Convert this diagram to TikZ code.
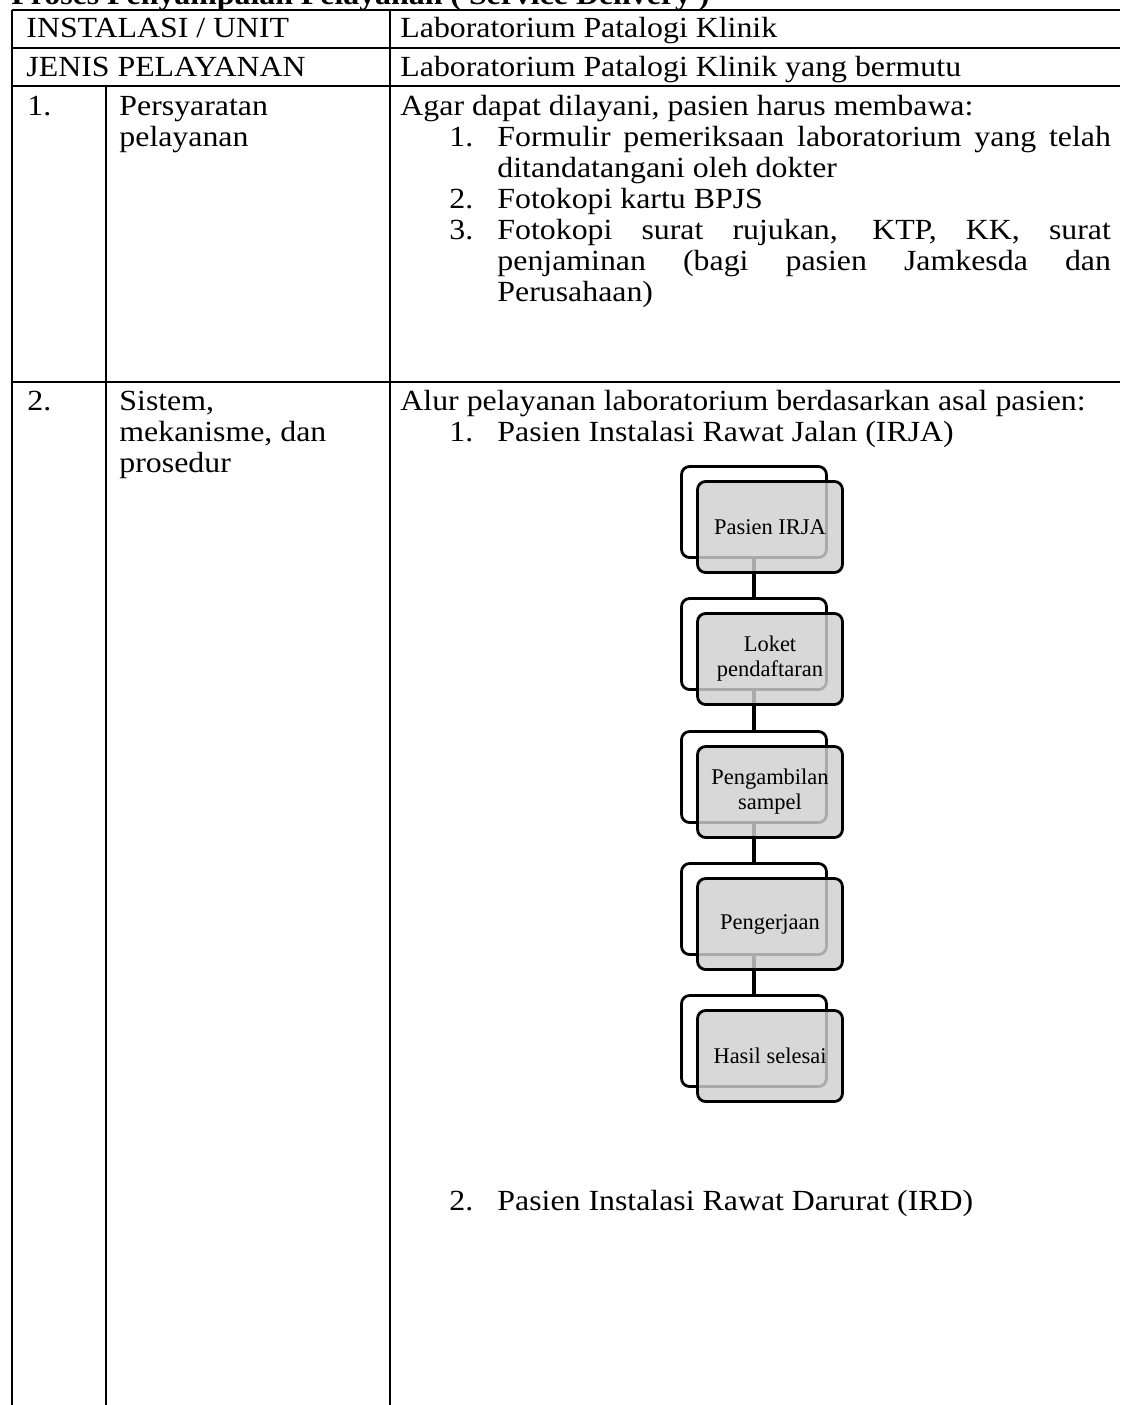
\documentclass[tikz,border=0pt]{standalone}
\usepackage{fontspec}
\setmainfont[FakeStretch=1.09]{Liberation Serif}
\newfontfamily\boxfont{Liberation Serif}
\usetikzlibrary{positioning}

\tikzset{
  cell/.style={anchor=base west, inner sep=0pt, font=\fontsize{13}{15}\selectfont},
  rule/.style={line width=0.75pt},
  backbox/.style={draw, line width=1.25pt, rounded corners=3.6pt, fill=white,
    minimum width=64.5pt, minimum height=40.5pt},
  frontbox/.style={draw, line width=1.25pt, rounded corners=3.6pt,
    fill={rgb,255:red,208;green,208;blue,208}, fill opacity=0.82, text opacity=1,
    minimum width=64.5pt, minimum height=40.5pt, inner sep=1pt, align=center,
    font=\boxfont\fontsize{10}{11.1}\selectfont},
  connline/.style={draw=black, line width=1.4pt},
}

\begin{document}
\begin{tikzpicture}[x=0.445pt, y=-0.445pt]
    \clip (0,0) rectangle (1120,1405);

    % title, cut at the top
    \node[cell] (title) at (11,4) {\textbf{Proses Penyampaian Pelayanan ( Service Delivery )}};

    % table rules
    \draw[rule] (12,10) -- (1120,10);
    \draw[rule] (12,47.7) -- (1120,47.7);
    \draw[rule] (12,86) -- (1120,86);
    \draw[rule] (12,382) -- (1120,382);
    \draw[rule] (12,10) -- (12,1405);
    \draw[rule] (106,86) -- (106,1405);
    \draw[rule] (390,10) -- (390,1405);

    % header rows
    \node[cell] (unit) at (26,37.7) {INSTALASI / UNIT};
    \node[cell] (unitval) at (400,37.7) {Laboratorium Patalogi Klinik};
    \node[cell] (jenis) at (26,76.7) {JENIS PELAYANAN};
    \node[cell] (jenisval) at (400,76.7) {Laboratorium Patalogi Klinik yang bermutu};

    % row 1
    \node[cell] (no1) at (27,115) {1.};
    \node[cell] (syarat) at (119,115) {Persyaratan};
    \node[cell] (syarat2) at (119,146) {pelayanan};
    \node[cell] (agar) at (400,115) {Agar dapat dilayani, pasien harus membawa:};
    \node[cell] (s1) at (449,146) {1.};
    \node[cell] (s1a) at (497,146) {\makebox[273pt][s]{Formulir pemeriksaan laboratorium yang telah}};
    \node[cell] (s1b) at (497,177) {ditandatangani oleh dokter};
    \node[cell] (s2) at (449,208) {2.};
    \node[cell] (s2a) at (497,208) {Fotokopi kartu BPJS};
    \node[cell] (s3) at (449,239) {3.};
    \node[cell] (s3a) at (497,239) {\makebox[273pt][s]{Fotokopi surat rujukan, KTP, KK, surat}};
    \node[cell] (s3b) at (497,270) {\makebox[273pt][s]{penjaminan (bagi pasien Jamkesda dan}};
    \node[cell] (s3c) at (497,301) {Perusahaan)};

    % row 2
    \node[cell] (no2) at (27,410) {2.};
    \node[cell] (sistem) at (119,410) {Sistem,};
    \node[cell] (sistem2) at (119,441) {mekanisme, dan};
    \node[cell] (sistem3) at (119,472) {prosedur};
    \node[cell] (alur) at (400,410) {Alur pelayanan laboratorium berdasarkan asal pasien:};
    \node[cell] (p1) at (449,441) {1.};
    \node[cell] (p1a) at (497,441) {Pasien Instalasi Rawat Jalan (IRJA)};
    \node[cell] (p2) at (449,1210) {2.};
    \node[cell] (p2a) at (497,1210) {Pasien Instalasi Rawat Darurat (IRD)};

    % flow of IRJA patients
    \node[backbox] (b1) at (754,512) {};
    \node[backbox] (b2) at (754,644) {};
    \node[backbox] (b3) at (754,777) {};
    \node[backbox] (b4) at (754,909) {};
    \node[backbox] (b5) at (754,1041) {};

    \draw[connline] (b1.south) -- (b2.north);
    \draw[connline] (b2.south) -- (b3.north);
    \draw[connline] (b3.south) -- (b4.north);
    \draw[connline] (b4.south) -- (b5.north);

    \node[frontbox] (f1) at ([shift={(16,15)}]b1.center) {Pasien IRJA};
    \node[frontbox] (f2) at ([shift={(16,15)}]b2.center) {Loket\\pendaftaran};
    \node[frontbox] (f3) at ([shift={(16,15)}]b3.center) {Pengambilan\\sampel};
    \node[frontbox] (f4) at ([shift={(16,15)}]b4.center) {Pengerjaan};
    \node[frontbox] (f5) at ([shift={(16,15)}]b5.center) {Hasil selesai};
\end{tikzpicture}
\end{document}
